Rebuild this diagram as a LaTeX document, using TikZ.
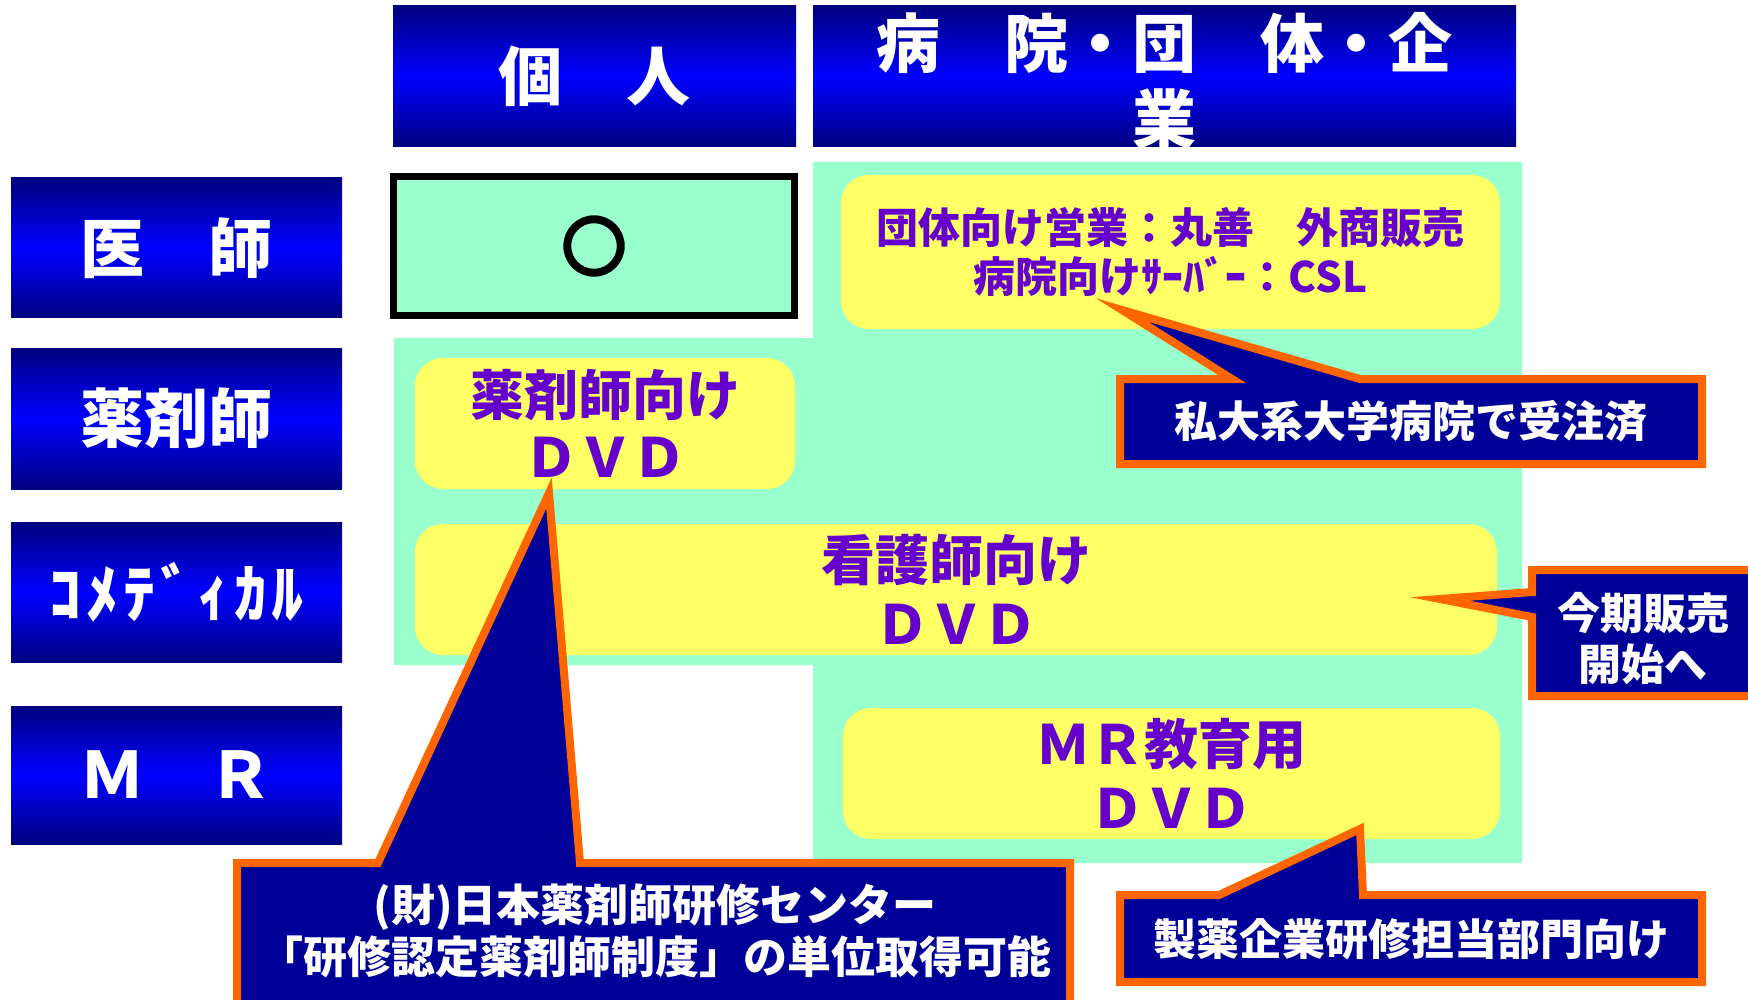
\documentclass[tikz,border=0pt]{standalone}
\usepackage{fontspec}
\newfontfamily\jp{Noto Sans CJK JP}
\newfontfamily\jpcirc{Noto Sans CJK JP}[FakeBold=9]
\definecolor{mint}{HTML}{99FFCC}
\definecolor{yel}{HTML}{FFFF66}
\definecolor{purp}{HTML}{6600CC}
\definecolor{navyD}{HTML}{000080}
\definecolor{calnavy}{HTML}{000099}
\definecolor{orng}{HTML}{FF6600}
\tikzset{
  hdr/.style={inner sep=0pt, outer sep=0pt, top color=navyD, bottom color=navyD, middle color=blue, text=white,
    font=\jp\bfseries\fontsize{64}{76}\selectfont, align=center},
  ybox/.style={fill=yel, rounded corners=28pt, inner sep=0pt, text=purp, align=center},
  calloutshape/.style={draw=orng, line width=8pt, fill=calnavy, line join=miter},
  caltext/.style={text=white, align=center, inner sep=0pt, font=\jp\bfseries\fontsize{43}{51}\selectfont}
}
\begin{document}
\begin{tikzpicture}[x=1pt,y=-1pt]
\useasboundingbox (0,0) rectangle (1748,1000);
% mint background
\fill[mint] (813,162) -- (1522,162) -- (1522,863) -- (813,863) -- (813,665) -- (394,665) -- (394,338) -- (813,338) -- cycle;
% headers
\node[hdr, minimum width=403pt, minimum height=141pt] (hind) at (594.5,76.5) {個　人};
\node[hdr, minimum width=703pt, minimum height=141pt] (horg) at (1164.5,76.5) {};
\node[text=white, align=center, inner sep=0pt, font=\jp\bfseries\fontsize{64}{76}\selectfont] (horgt) at (1164.5,81) {病　院・団　体・企\\業};
% row labels
\node[hdr, minimum width=331pt, minimum height=140pt] (rdoc) at (176.5,248) {医　師};
\node[hdr, minimum width=331pt, minimum height=141pt] (rpha) at (176.5,418.5) {薬剤師};
\node[hdr, minimum width=331pt, minimum height=140pt] (rcom) at (176.5,592) {\addfontfeature{LetterSpace=8}ｺﾒﾃﾞｨｶﾙ};
\node[hdr, minimum width=331pt, minimum height=138pt] (rmr) at (176.5,775) {Ｍ　Ｒ};
% individual doctor box
\node[draw=black, line width=7pt, fill=mint, inner sep=0pt, minimum width=401pt, minimum height=139pt,
  font=\jpcirc\fontsize{62}{62}\selectfont] (ind) at (594,246) {○};
% yellow boxes
\node[ybox, minimum width=659pt, minimum height=154pt, font=\jp\bfseries\fontsize{42}{49}\selectfont] (yorg) at (1170.5,252) {団体向け営業：丸善　外商販売\\病院向けｻｰﾊﾞｰ：CSL};
\node[ybox, minimum width=380pt, minimum height=131pt, font=\jp\bfseries\fontsize{54}{62}\selectfont] (ypha) at (605,423.5) {薬剤師向け\\ＤＶＤ};
\node[ybox, minimum width=1082pt, minimum height=131pt, font=\jp\bfseries\fontsize{54}{64}\selectfont] (ynur) at (956,589.5) {看護師向け\\ＤＶＤ};
\node[ybox, minimum width=657pt, minimum height=131pt, font=\jp\bfseries\fontsize{54}{64}\selectfont] (ymr) at (1171.5,773.5) {ＭＲ教育用\\ＤＶＤ};
% callouts
\draw[calloutshape] (1120,379) -- (1232,379) -- (1122,310) -- (1360,379) -- (1702,379) -- (1702,464) -- (1120,464) -- cycle;
\node[caltext] (c1) at (1411,421.5) {私大系大学病院で受注済};
\draw[calloutshape] (1532,570) -- (1775,570) -- (1775,696) -- (1532,696) -- (1532,617) -- (1440,599) -- (1532,592) -- cycle;
\node[caltext] (c2) at (1643,639) {今期販売\\開始へ};
\draw[calloutshape] (1120,895) -- (1219,895) -- (1360,829) -- (1363,895) -- (1702,895) -- (1702,982) -- (1120,982) -- cycle;
\node[caltext] (c3) at (1411,939) {製薬企業研修担当部門向け};
\draw[calloutshape] (237,863) -- (378,863) -- (549,493) -- (580,863) -- (1070,863) -- (1070,1012) -- (237,1012) -- cycle;
\node[caltext, font=\jp\bfseries\fontsize{44}{52}\selectfont] (c4) at (655,931) {(財)日本薬剤師研修センター\\「研修認定薬剤師制度」の単位取得可能};
\end{tikzpicture}
\end{document}
